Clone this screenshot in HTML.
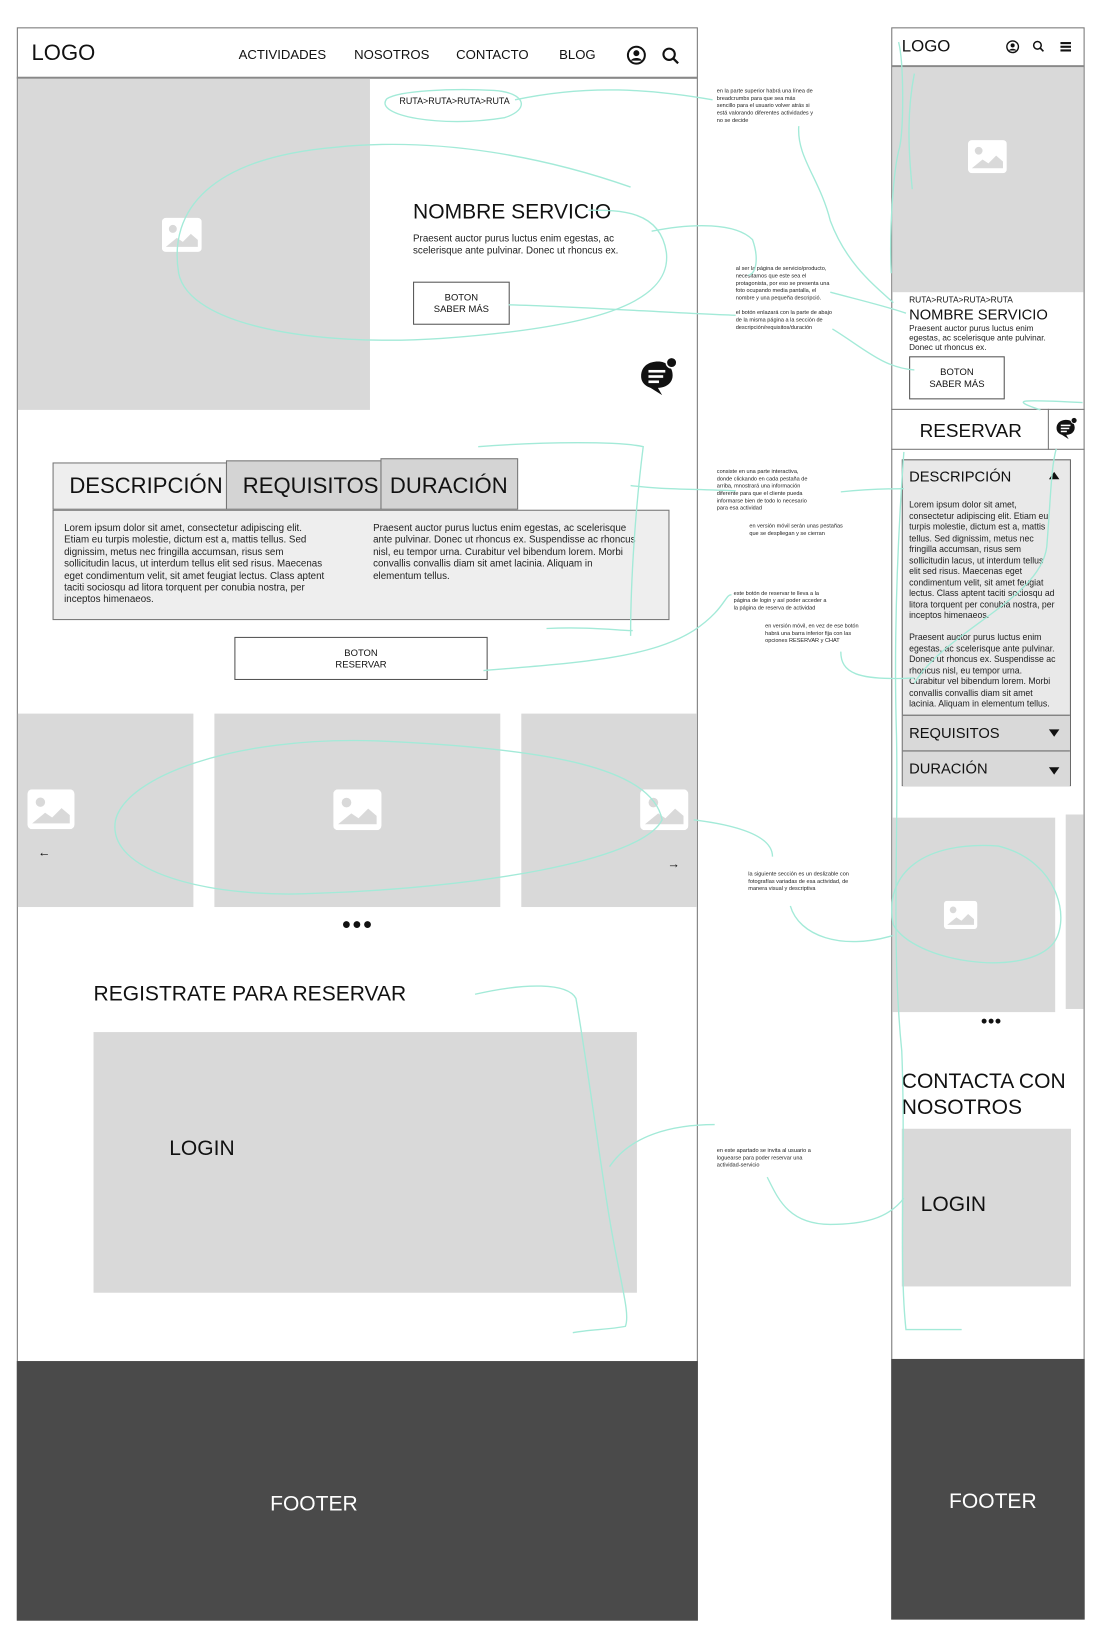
<!DOCTYPE html>
<html><head><meta charset="utf-8"><style>
html,body{margin:0;padding:0;background:#fff;width:1108px;height:1646px;overflow:hidden}
#w{position:absolute;left:0;top:0;width:1050px;height:1560px;transform:scale(1.051);transform-origin:0 0;font-family:"Liberation Sans",sans-serif;color:#111}
.a{position:absolute}
.t{position:absolute;white-space:nowrap;line-height:1}
.g{background:#d9d9d9}
.btn{position:absolute;border:1px solid #555;background:#fff;font-size:9px;text-align:center;line-height:11px;box-sizing:border-box;display:flex;align-items:center;justify-content:center}
.note{position:absolute;font-size:5.3px;line-height:6.9px;color:#222;white-space:nowrap}
.p{position:absolute;font-size:9.3px;line-height:11.4px;color:#222;white-space:nowrap}
</style></head><body><div id="w">
<svg width="0" height="0" style="position:absolute"><defs>
<symbol id="img" viewBox="0 0 40 34"><rect x="0" y="0" width="40" height="34" rx="4" fill="#fff"/><circle cx="11" cy="11" r="4" fill="#d9d9d9"/><path d="M4 29 L15 20 L21 24 L29 16 L36 22 L36 29 Z" fill="#d9d9d9"/></symbol>
<symbol id="chat" viewBox="0 0 40 40"><path d="M4 20 C4 10 12 6 20 6 C28 6 34 11 34 19 C34 27 27 31 20 31 L24 38 L13 31 C7 29 4 25 4 20Z" fill="#111"/><rect x="11" y="14" width="16" height="2.5" fill="#fff"/><rect x="11" y="19" width="14" height="2.5" fill="#fff"/><rect x="11" y="24" width="10" height="2.5" fill="#fff"/><circle cx="33" cy="7" r="5" fill="#111" stroke="#fff" stroke-width="1.5"/></symbol>
</defs></svg>

<!-- DESKTOP -->
<div class="a" style="left:16px;top:26px;width:648px;height:1516px;border:1px solid #777;box-sizing:border-box"></div>
<div class="a" style="left:16px;top:73px;width:648px;height:2px;background:#888"></div>
<div class="t" style="left:30px;top:40px;font-size:21px">LOGO</div>
<div class="t" style="left:227px;top:46px;font-size:12.5px">ACTIVIDADES</div>
<div class="t" style="left:337px;top:46px;font-size:12.5px">NOSOTROS</div>
<div class="t" style="left:434px;top:46px;font-size:12.5px">CONTACTO</div>
<div class="t" style="left:532px;top:46px;font-size:12.5px">BLOG</div>
<svg class="a" style="left:596px;top:43px" width="19" height="19" viewBox="0 0 20 20"><circle cx="10" cy="10" r="8.5" fill="none" stroke="#111" stroke-width="2"/><circle cx="10" cy="8" r="3" fill="#111"/><path d="M4.5 15.5 C6 12 14 12 15.5 15.5" fill="#111"/></svg>
<svg class="a" style="left:629px;top:44px" width="18" height="18" viewBox="0 0 20 20"><circle cx="8.5" cy="8.5" r="6" fill="none" stroke="#111" stroke-width="2.2"/><line x1="13" y1="13" x2="18" y2="18" stroke="#111" stroke-width="2.4"/></svg>

<div class="a g" style="left:17px;top:75px;width:335px;height:315px"></div>
<svg class="a" style="left:154px;top:207px" width="38" height="33"><use href="#img"/></svg>
<div class="t" style="left:380px;top:92px;font-size:8.5px">RUTA&gt;RUTA&gt;RUTA&gt;RUTA</div>
<div class="t" style="left:393px;top:192px;font-size:20px">NOMBRE SERVICIO</div>
<div class="p" style="left:393px;top:222px;font-size:9.3px">Praesent auctor purus luctus enim egestas, ac<br>scelerisque ante pulvinar. Donec ut rhoncus ex.</div>
<div class="btn" style="left:393px;top:268px;width:92px;height:41px">BOTON<br>SABER MÁS</div>
<svg class="a" style="left:606px;top:338px" width="40" height="40"><use href="#chat"/></svg>

<div class="a" style="left:50px;top:440px;width:166px;height:45px;border:1px solid #777;background:#eee;box-sizing:border-box"></div>
<div class="a" style="left:215px;top:438px;width:148px;height:47px;border:1px solid #777;background:#d4d4d4;box-sizing:border-box"></div>
<div class="a" style="left:362px;top:436px;width:131px;height:49px;border:1px solid #777;background:#d4d4d4;box-sizing:border-box"></div>
<div class="t" style="left:66px;top:452px;font-size:21px">DESCRIPCIÓN</div>
<div class="t" style="left:231px;top:452px;font-size:21px">REQUISITOS</div>
<div class="t" style="left:371px;top:452px;font-size:21px">DURACIÓN</div>
<div class="a" style="left:50px;top:485px;width:587px;height:105px;border:1px solid #777;background:#eee;box-sizing:border-box"></div>
<div class="p" style="left:61px;top:497px">Lorem ipsum dolor sit amet, consectetur adipiscing elit.<br>Etiam eu turpis molestie, dictum est a, mattis tellus. Sed<br>dignissim, metus nec fringilla accumsan, risus sem<br>sollicitudin lacus, ut interdum tellus elit sed risus. Maecenas<br>eget condimentum velit, sit amet feugiat lectus. Class aptent<br>taciti sociosqu ad litora torquent per conubia nostra, per<br>inceptos himenaeos.</div>
<div class="p" style="left:355px;top:497px">Praesent auctor purus luctus enim egestas, ac scelerisque<br>ante pulvinar. Donec ut rhoncus ex. Suspendisse ac rhoncus<br>nisl, eu tempor urna. Curabitur vel bibendum lorem. Morbi<br>convallis convallis diam sit amet lacinia. Aliquam in<br>elementum tellus.</div>
<div class="btn" style="left:223px;top:606px;width:241px;height:41px">BOTON<br>RESERVAR</div>

<div class="a g" style="left:17px;top:679px;width:167px;height:184px"></div>
<div class="a g" style="left:204px;top:679px;width:272px;height:184px"></div>
<div class="a g" style="left:496px;top:679px;width:167px;height:184px"></div>
<svg class="a" style="left:26px;top:751px" width="45" height="38"><use href="#img"/></svg>
<svg class="a" style="left:317px;top:751px" width="46" height="39"><use href="#img"/></svg>
<svg class="a" style="left:609px;top:751px" width="46" height="39"><use href="#img"/></svg>
<div class="t" style="left:36px;top:805px;font-size:12px">←</div>
<div class="t" style="left:635px;top:816px;font-size:12px">→</div>
<div class="t" style="left:325px;top:872px;font-size:15px;letter-spacing:1px">●●●</div>

<div class="t" style="left:89px;top:936px;font-size:20px">REGISTRATE PARA RESERVAR</div>
<div class="a g" style="left:89px;top:982px;width:517px;height:248px"></div>
<div class="t" style="left:161px;top:1083px;font-size:20px">LOGIN</div>
<div class="a" style="left:16px;top:1295px;width:648px;height:247px;background:#4a4a4a"></div>
<div class="t" style="left:257px;top:1421px;font-size:20px;color:#fff">FOOTER</div>

<!-- MOBILE -->
<div class="a" style="left:848px;top:26px;width:184px;height:1515px;border:1px solid #777;box-sizing:border-box"></div>
<div class="a" style="left:848px;top:62px;width:184px;height:2px;background:#888"></div>
<div class="t" style="left:858px;top:37px;font-size:16px">LOGO</div>
<svg class="a" style="left:957px;top:38px" width="13" height="13" viewBox="0 0 20 20"><circle cx="10" cy="10" r="8.5" fill="none" stroke="#111" stroke-width="2"/><circle cx="10" cy="8" r="3" fill="#111"/><path d="M4.5 15.5 C6 12 14 12 15.5 15.5" fill="#111"/></svg>
<svg class="a" style="left:982px;top:38px" width="12" height="12" viewBox="0 0 20 20"><circle cx="8.5" cy="8.5" r="6" fill="none" stroke="#111" stroke-width="2.4"/><line x1="13" y1="13" x2="18" y2="18" stroke="#111" stroke-width="2.6"/></svg>
<div class="a" style="left:1009px;top:40px;width:10px;height:1.6px;background:#111;box-shadow:0 3.5px 0 #111,0 7px 0 #111"></div>
<div class="a g" style="left:849px;top:64px;width:182px;height:214px"></div>
<svg class="a" style="left:921px;top:133px" width="37" height="32"><use href="#img"/></svg>
<div class="t" style="left:865px;top:282px;font-size:8px">RUTA&gt;RUTA&gt;RUTA&gt;RUTA</div>
<div class="t" style="left:865px;top:292px;font-size:14px">NOMBRE SERVICIO</div>
<div class="p" style="left:865px;top:308px;font-size:7.8px;line-height:9px">Praesent auctor purus luctus enim<br>egestas, ac scelerisque ante pulvinar.<br>Donec ut rhoncus ex.</div>
<div class="btn" style="left:865px;top:339px;width:91px;height:41px">BOTON<br>SABER MÁS</div>
<div class="a" style="left:848px;top:389px;width:184px;height:39px;border-top:1px solid #777;border-bottom:1px solid #777;box-sizing:border-box"></div>
<div class="a" style="left:997px;top:389px;width:1px;height:39px;background:#777"></div>
<div class="t" style="left:875px;top:401px;font-size:18px">RESERVAR</div>
<svg class="a" style="left:1003px;top:396px" width="23" height="23"><use href="#chat"/></svg>

<div class="a" style="left:858px;top:437px;width:161px;height:311px;border:1px solid #666;background:#e9e9e9;box-sizing:border-box"></div>
<div class="t" style="left:865px;top:446px;font-size:14px">DESCRIPCIÓN</div>
<div class="a" style="left:998px;top:449px;width:0;height:0;border-left:5px solid transparent;border-right:5px solid transparent;border-bottom:7px solid #111"></div>
<div class="p" style="left:865px;top:475px;font-size:8.3px;line-height:10.5px">Lorem ipsum dolor sit amet,<br>consectetur adipiscing elit. Etiam eu<br>turpis molestie, dictum est a, mattis<br>tellus. Sed dignissim, metus nec<br>fringilla accumsan, risus sem<br>sollicitudin lacus, ut interdum tellus<br>elit sed risus. Maecenas eget<br>condimentum velit, sit amet feugiat<br>lectus. Class aptent taciti sociosqu ad<br>litora torquent per conubia nostra, per<br>inceptos himenaeos.<br><br>Praesent auctor purus luctus enim<br>egestas, ac scelerisque ante pulvinar.<br>Donec ut rhoncus ex. Suspendisse ac<br>rhoncus nisl, eu tempor urna.<br>Curabitur vel bibendum lorem. Morbi<br>convallis convallis diam sit amet<br>lacinia. Aliquam in elementum tellus.</div>
<div class="a" style="left:859px;top:680px;width:159px;height:67px;background:#d9d9d9;border-top:1px solid #666"></div>
<div class="a" style="left:859px;top:714px;width:159px;height:1px;background:#666"></div>
<div class="t" style="left:865px;top:690px;font-size:14px">REQUISITOS</div>
<div class="t" style="left:865px;top:724px;font-size:14px">DURACIÓN</div>
<div class="a" style="left:998px;top:694px;border-left:5px solid transparent;border-right:5px solid transparent;border-top:7px solid #111"></div>
<div class="a" style="left:998px;top:730px;border-left:5px solid transparent;border-right:5px solid transparent;border-top:7px solid #111"></div>

<div class="a g" style="left:849px;top:778px;width:155px;height:185px"></div>
<div class="a g" style="left:1014px;top:775px;width:17px;height:185px"></div>
<svg class="a" style="left:898px;top:857px" width="32" height="27"><use href="#img"/></svg>
<div class="t" style="left:933px;top:967px;font-size:11px">●●●</div>
<div class="t" style="left:858px;top:1017px;font-size:20px;line-height:25px">CONTACTA CON<br>NOSOTROS</div>
<div class="a g" style="left:858px;top:1074px;width:161px;height:150px"></div>
<div class="t" style="left:876px;top:1136px;font-size:20px">LOGIN</div>
<div class="a" style="left:848px;top:1293px;width:184px;height:248px;background:#4a4a4a"></div>
<div class="t" style="left:903px;top:1419px;font-size:20px;color:#fff">FOOTER</div>

<!-- NOTES -->
<div class="note" style="left:682px;top:84px">en la parte superior habrá una línea de<br>breadcrumbs para que sea más<br>sencillo para el usuario volver atrás si<br>está valorando diferentes actividades y<br>no se decide</div>
<div class="note" style="left:700px;top:253px">al ser la página de servicio/producto,<br>necesitamos que este sea el<br>protagonista, por eso se presenta una<br>foto ocupando media pantalla, el<br>nombre y una pequeña descripció.</div>
<div class="note" style="left:700px;top:295px">el botón enlazará con la parte de abajo<br>de la misma página a la sección de<br>descripción/requisitos/duración</div>
<div class="note" style="left:682px;top:446px">consiste en una parte interactiva,<br>donde clickando en cada pestaña de<br>arriba, mnostrará una información<br>diferente para que el cliente pueda<br>informarse bien de todo lo necesario<br>para esa actividad</div>
<div class="note" style="left:713px;top:498px">en versión móvil serán unas pestañas<br>que se despliegan y se cierran</div>
<div class="note" style="left:698px;top:562px">este botón de reservar te lleva a la<br>página de login y así poder acceder a<br>la página de reserva de actividad</div>
<div class="note" style="left:728px;top:593px">en versión móvil, en vez de ese botón<br>habrá una barra inferior fija con las<br>opciones RESERVAR y CHAT</div>
<div class="note" style="left:712px;top:829px">la siguiente sección es un deslizable con<br>fotografías variadas de esa actividad, de<br>manera visual y descriptiva</div>
<div class="note" style="left:682px;top:1092px">en este apartado se invita al usuario a<br>loguearse para poder reservar una<br>actividad-servicio</div>

<!-- GREEN SCRIBBLES -->
<svg class="a" style="left:0;top:0" width="1050" height="1560" fill="none" stroke="#a3ead8" stroke-width="1.3">
<path d="M368 94 C355 110 420 122 480 112 C505 104 500 88 470 86 C430 84 380 86 368 94"/>
<path d="M490 95 C560 80 620 85 678 95"/>
<path d="M600 178 C520 150 420 130 320 140 C200 150 160 200 170 260 C180 310 300 330 420 322 C560 312 640 290 634 240 C628 200 590 200 560 200"/>
<path d="M620 220 C660 212 700 212 716 228 C722 245 720 260 712 262"/>
<path d="M484 290 C560 292 640 298 700 300"/>
<path d="M760 120 C758 150 780 170 790 210 C805 250 830 270 850 288"/>
<path d="M790 278 C820 286 845 292 862 298"/>
<path d="M792 313 C820 330 840 350 870 352"/>
<path d="M455 425 C520 420 590 420 612 425 C605 480 600 550 600 605 M520 598 C560 596 590 600 602 600"/>
<path d="M600 462 C630 466 660 465 700 467 M800 468 C830 465 850 465 860 465"/>
<path d="M460 638 C560 630 620 625 660 600 C690 580 690 565 696 566"/>
<path d="M800 620 C800 640 815 648 870 645"/>
<path d="M110 780 C100 830 200 855 300 850 C450 845 610 820 630 780 C620 730 520 712 360 705 C220 700 120 740 110 780"/>
<path d="M660 780 C700 785 735 795 735 815 M752 862 C760 890 800 905 850 890"/>
<path d="M850 880 C840 830 880 800 950 805 C1010 820 1020 880 1000 900 C970 930 870 915 850 880"/>
<path d="M452 946 C500 935 540 935 548 950 C560 1020 570 1100 580 1160 C590 1220 600 1250 595 1262 C580 1265 560 1265 545 1268"/>
<path d="M580 1110 C600 1080 640 1070 680 1070"/>
<path d="M730 1120 C740 1140 750 1165 790 1165 C820 1165 845 1160 860 1140"/>
<path d="M855 40 C860 60 860 120 856 140 C850 160 846 220 848 260 M870 70 C862 110 865 150 868 180"/>
<path d="M990 390 C960 380 970 380 1030 383 M1005 427 C1000 445 1000 470 996 520 C990 570 900 600 870 650"/>
<path d="M860 430 C855 500 850 600 853 700 C855 800 848 900 858 1000 C862 1100 855 1200 862 1265 L915 1265"/>
</svg>
</div></body></html>
